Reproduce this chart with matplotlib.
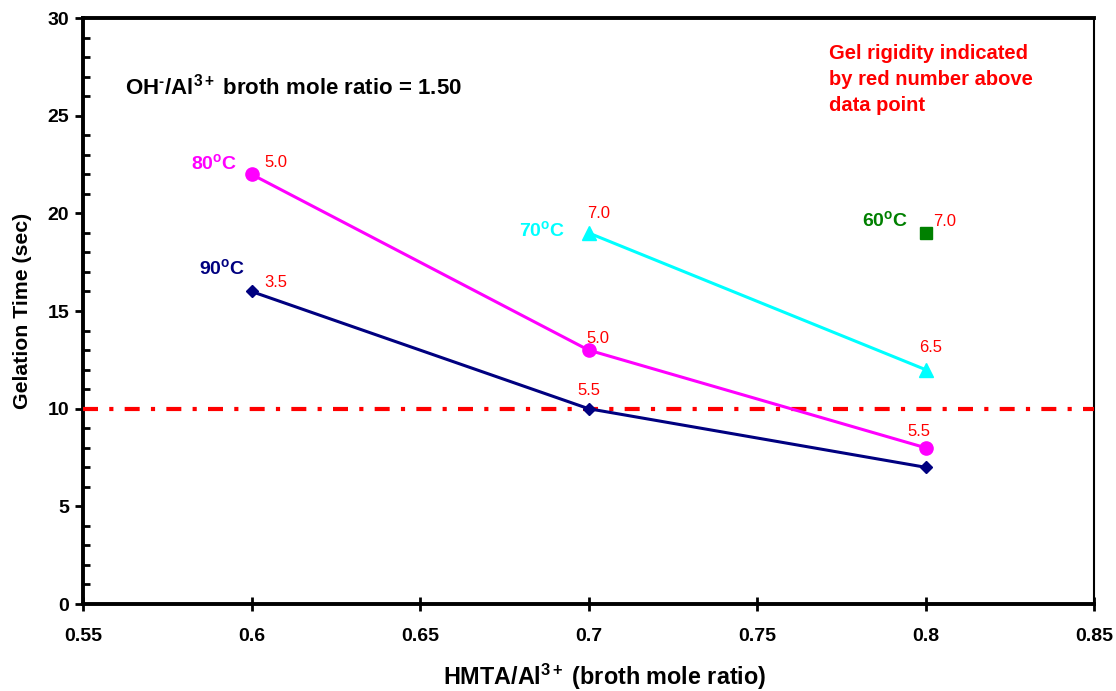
import matplotlib
matplotlib.use("Agg")
import matplotlib.pyplot as plt
from matplotlib.ticker import MultipleLocator

plt.rcParams['font.family'] = ['Liberation Sans', 'DejaVu Sans']
plt.rcParams['mathtext.fontset'] = 'custom'
plt.rcParams['mathtext.rm'] = 'Liberation Sans'
plt.rcParams['mathtext.it'] = 'Liberation Sans:italic'
plt.rcParams['mathtext.bf'] = 'Liberation Sans:bold'
plt.rcParams['mathtext.default'] = 'bf'

# Data
x_90 = [0.6, 0.7, 0.8]
y_90 = [16, 10, 7]
rig_90 = ["3.5", "5.5", None]

x_80 = [0.6, 0.7, 0.8]
y_80 = [22, 13, 8]
rig_80 = ["5.0", "5.0", "5.5"]

x_70 = [0.7, 0.8]
y_70 = [19, 12]
rig_70 = ["7.0", "6.5"]

x_60 = [0.8]
y_60 = [19]
rig_60 = ["7.0"]

threshold = 10

fig = plt.figure(figsize=(11.16, 6.91), dpi=100)
ax = fig.add_axes([0.0744, 0.1259, 0.9059, 0.848])

ax.plot(x_90, y_90, color='#000080', lw=2.2, marker='D', ms=6.5, zorder=4)
ax.plot(x_80, y_80, color='#FF00FF', lw=2.2, marker='o', ms=9.5, zorder=4)
ax.plot(x_70, y_70, color='#00FFFF', lw=2.2, marker='^', ms=10, zorder=4)
ax.plot(x_60, y_60, color='#008000', lw=0, marker='s', ms=8, zorder=4)
ax.axhline(threshold, color='#FF0000', lw=3, dashes=(3.6, 2.7, 1.0, 2.7),
           dash_capstyle='butt', zorder=3)

def rig(xs, ys, labels, offs):
    for xv, yv, lab, off in zip(xs, ys, labels, offs):
        if lab is None:
            continue
        ax.annotate(lab, (xv, yv), xytext=off, textcoords='offset points',
                    color='#FF0000', fontsize=12, ha='center', va='center')

rig(x_90, y_90, rig_90, [(17.6, 6.8), (0, 13)])
rig(x_80, y_80, rig_80, [(17.6, 8.6), (6.8, 8.6), (-5, 12)])
rig(x_70, y_70, rig_70, [(7.5, 14), (3.6, 16)])
rig(x_60, y_60, rig_60, [(13.5, 8.3)])

lab_kw = dict(fontsize=14, fontweight='bold', ha='right', va='center')
ax.text(0.5957, 22.6, r"80$^{o}$C", color='#FF00FF', **lab_kw)
ax.text(0.598, 17.2, r"90$^{o}$C", color='#000080', **lab_kw)
ax.text(0.693, 19.15, r"70$^{o}$C", color='#00FFFF', **lab_kw)
ax.text(0.795, 19.66, r"60$^{o}$C", color='#008000', **lab_kw)

ax.text(0.5625, 26.5, "OH$^{\u2010}$/Al$^{3+}$ broth mole ratio = 1.50",
        fontsize=16, fontweight='bold', ha='left', va='center')
ax.text(0.7715, 26.85, "Gel rigidity indicated\nby red number above\ndata point", color='#FF0000',
        fontsize=14.5, fontweight='bold', ha='left', va='center', linespacing=1.47)

ax.set_xlim(0.55, 0.85)
ax.set_ylim(0, 30)
ax.yaxis.set_major_locator(MultipleLocator(5))
ax.yaxis.set_minor_locator(MultipleLocator(1))
ax.set_xticks([0.55, 0.6, 0.65, 0.7, 0.75, 0.8, 0.85])
ax.set_xticklabels(["0.55", "0.6", "0.65", "0.7", "0.75", "0.8", "0.85"])
ax.tick_params(axis='x', which='major', direction='inout', length=10, width=2, labelsize=14, pad=12)
ax.tick_params(axis='y', which='major', direction='out', length=6, width=2, labelsize=14, pad=4)
ax.tick_params(axis='y', which='minor', direction='in', length=5, width=2)
for lab in ax.get_xticklabels() + ax.get_yticklabels():
    lab.set_fontweight('bold')

for s in ['left', 'bottom', 'top']:
    ax.spines[s].set_linewidth(2.8)
ax.spines['right'].set_linewidth(1.5)

ax.set_xlabel(r"HMTA/Al$^{3+}$ (broth mole ratio)", fontsize=16.8, fontweight='bold')
ax.xaxis.set_label_coords((605 - 83) / 1011, -(677 - 604) / 586)
ax.xaxis.label.set_va('center')
ax.set_ylabel("Gelation Time (sec)", fontsize=15.3, fontweight='bold')
ax.yaxis.set_label_coords(-(83 - 22) / 1011, 0.5)
ax.yaxis.label.set_va('center')

fig.savefig("out.png", dpi=100)
